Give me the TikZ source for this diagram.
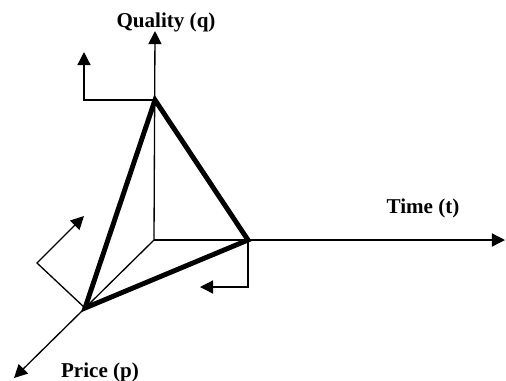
\documentclass[tikz,border=0pt]{standalone}
\usepackage{fontspec}
\setmainfont{Liberation Serif}
\usetikzlibrary{arrows.meta}
\begin{document}
\begin{tikzpicture}[
    x=0.02cm, y=-0.02cm,
    axis/.style={-{Triangle[length=7.5pt,width=7.5pt]}, line width=0.75pt},
    edge/.style={line width=2.8pt, line join=miter},
    turn/.style={-{Triangle[length=7.5pt,width=7.5pt]}, line width=0.75pt},
    axlbl/.style={font=\fontsize{12}{14}\selectfont\bfseries, inner sep=0pt},
  ]
  \useasboundingbox (0,0) rectangle (506,380);

  % corners of the triangle
  \coordinate (o) at (154,240);
  \coordinate (qv) at (155,100);
  \coordinate (tv) at (248,240);
  \coordinate (pv) at (85,308);

  % axis ends and bends
  \coordinate (qend) at (155,31);
  \coordinate (tend) at (505,240);
  \coordinate (pend) at (14,378);
  \coordinate (qbend) at (84,100);
  \coordinate (qtip) at (84,52);
  \coordinate (tbend) at (248,287);
  \coordinate (ttip) at (200,287);
  \coordinate (pbend) at (37,263);
  \coordinate (ptip) at (84,216);

  % axes
  \draw[axis] (o) -- (qend);
  \draw[axis] (o) -- (tend);
  \draw[axis] (o) -- (pend);

  % labels
  \node[axlbl] (qlbl) at (166,22) {Quality (q)};
  \node[axlbl] (tlbl) at (423,208) {Time (t)};
  \node[axlbl] (plbl) at (100,372) {Price (p)};

  % small turning arrows
  \draw[turn] (qv) -- (qbend) -- (qtip);
  \draw[turn] (tv) -- (tbend) -- (ttip);
  \draw[turn] (pv) -- (pbend) -- (ptip);

  % thick triangle
  \draw[edge] (qv) -- (tv) -- (pv) -- cycle;
\end{tikzpicture}
\end{document}
